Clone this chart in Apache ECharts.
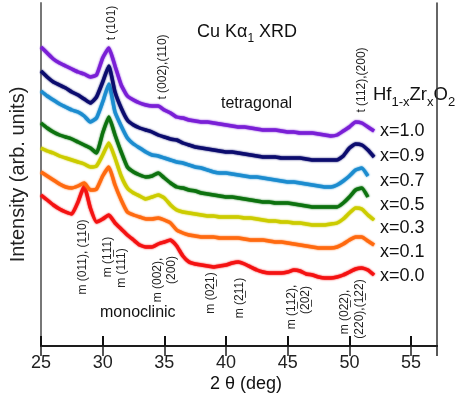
<!DOCTYPE html>
<html>
<head>
<meta charset="utf-8">
<script src="https://cdn.jsdelivr.net/npm/echarts@6/dist/echarts.min.js"></script>
<style>
html,body{margin:0;padding:0;background:#fff;}
#chart{width:455px;height:401px;}
</style>
</head>
<body>
<div id="chart"></div>
<script>
// 2θ positions (deg)
const twoTheta = [25,25.5,26,26.5,27,27.5,28,28.5,29,29.5,30,30.5,31,31.5,32,32.5,33,33.5,34,34.5,35,35.5,36,36.5,37,37.5,38,38.5,39,39.5,40,40.5,41,41.5,42,42.5,43,43.5,44,44.5,45,45.5,46,46.5,47,47.5,48,48.5,49,49.5,50,50.5,51,51.5,52];

// intensities (arb. units, offset stacked as in the figure)
const x10 = [299,293,287,283,280,277,274,272,269,271, 288,298,280,261,250,246,243,241,240,240, 236,233,229,228,226,225,224,224,223,222, 221,220,219,219,218,217,216,216,216,215, 214,214,213,213,213,212,211,210,211,215, 219,224,223,219,215];
const x09 = [275,269,264,261,258,254,251,247,243,249, 264,280,254,238,226,221,218,216,214,211, 209,207,206,203,201,199,198,197,196,195, 194,194,193,192,191,190,189,189,189,188, 188,188,188,187,186,186,186,186,186,190, 198,202,201,196,189];
const x07 = [255,250,246,242,239,236,234,230,224,228, 244,262,234,220,208,202,198,194,191,190, 188,186,184,183,181,179,178,176,174,173, 173,172,171,170,169,169,168,167,166,165, 164,164,163,162,161,160,159,159,161,165, 170,176,178,170,null];
const x05 = [223,218,214,211,209,207,204,201,198,193, 213,229,211,194,179,174,171,169,170,173, 168,163,159,158,156,155,153,152,151,150, 149,149,148,147,146,145,144,144,143,143, 143,142,141,140,139,139,139,139,139,143, 149,156,158,149,null];
const x03 = [198,195,193,190,188,186,184,182,179,180, 191,203,188,170,158,153,150,147,149,151, 148,141,136,134,133,132,131,130,130,129, 129,129,129,128,128,127,126,125,125,124, 124,123,123,122,121,121,121,122,123,127, 133,138,137,131,126];
const x01 = [174,170,166,162,159,158,160,163,156,157, 170,179,161,146,134,131,129,127,127,128, 126,123,116,113,111,110,109,109,109,108, 108,108,108,107,106,106,106,105,104,104, 103,102,101,100,99,98,98,98,99,102, 106,109,109,105,101];
const x00 = [151,146,141,137,134,132,144,160,138,124, 127,131,123,117,111,106,101,99,99,102, 104,106,100,90,84,82,81,80,79,80, 81,83,84,82,79,76,74,73,73,73, 74,76,75,72,71,69,68,68,69,71, 74,77,78,76,71];

const seriesNames = ['x=1.0','x=0.9','x=0.7','x=0.5','x=0.3','x=0.1','x=0.0'];
const seriesValues = [x10,x09,x07,x05,x03,x01,x00];
const seriesColors = ['#7a1fd6','#0c0c6e','#1c8ccf','#0d720f','#cccc00','#ff6a10','#f41212'];
const xTicks = [25,30,35,40,45,50,55];

const FONT = '"Liberation Sans", Arial, sans-serif';
const chart = echarts.init(document.getElementById('chart'), null, {renderer:'canvas'});

const series = seriesValues.map((vals, k) => ({
  name: seriesNames[k],
  type: 'line',
  showSymbol: false,
  smooth: 0.15,
  connectNulls: false,
  lineStyle: {color: seriesColors[k], width: 3.5, shadowColor: seriesColors[k], shadowBlur: 2},
  itemStyle: {color: seriesColors[k]},
  data: twoTheta.map((t, i) => [t, vals[i]]),
  z: 10 - k
}));

// label positions in pixels (annotations, not data)
const vText = (txt, x, y) => ({
  type: 'text', x: x, y: y, rotation: Math.PI / 2,
  style: {text: txt, font: '12px ' + FONT, fill: '#222', align: 'center', verticalAlign: 'middle', textAlign: 'center', textVerticalAlign: 'middle'}
});
const hText = (txt, x, y, size) => ({
  type: 'text', x: x, y: y,
  style: {text: txt, font: size + 'px ' + FONT, fill: '#111', align: 'left', verticalAlign: 'middle', textAlign: 'left', textVerticalAlign: 'middle'}
});
const legendY = [131, 156, 181, 205, 228, 252, 276];

const graphics = [
  vText('t (101)', 112, 23),
  vText('t (002),(110)', 163, 67),
  vText('t (112),(200)', 362, 80),
  vText('m (011), (1\u033210)', 83, 257),
  vText('m (1\u033211)', 108, 257),
  vText('m (111)', 122, 268),
  vText('m (002),', 158, 280),
  vText('(200)', 172, 270),
  vText('m (02\u03321)', 211, 293),
  vText('m (2\u033211)', 240, 298),
  vText('m (1\u033212),', 292, 307),
  vText('(2\u033202)', 306, 300),
  vText('m (02\u03322),', 345, 312),
  vText('(220),(1\u033222)', 360, 309),
  hText('tetragonal', 221, 104, 16),
  hText('monoclinic', 100, 313, 16),
  hText('2 \u03b8 (deg)', 210, 384, 18),
  {
    type: 'text', x: 197, y: 35,
    style: {
      text: '{m|Cu K\u03b1}{s|1}{m| XRD}',
      align: 'left', verticalAlign: 'middle', textAlign: 'left', textVerticalAlign: 'middle',
      fill: '#111',
      rich: {
        m: {fontSize: 18, fontFamily: FONT, color: '#111', lineHeight: 20, padding: [0,0,4,0], verticalAlign: 'bottom'},
        s: {fontSize: 12, fontFamily: FONT, color: '#111', lineHeight: 14, verticalAlign: 'bottom'}
      }
    }
  },
  {
    type: 'text', x: 373, y: 98,
    style: {
      text: '{m|Hf}{s|1-x}{m|Zr}{s|x}{m|O}{s|2}',
      align: 'left', verticalAlign: 'middle', textAlign: 'left', textVerticalAlign: 'middle',
      fill: '#111',
      rich: {
        m: {fontSize: 18.5, fontFamily: FONT, color: '#111', lineHeight: 21, padding: [0,0,4,0], verticalAlign: 'bottom'},
        s: {fontSize: 13, fontFamily: FONT, color: '#111', lineHeight: 15, verticalAlign: 'bottom'}
      }
    }
  }
].concat(seriesNames.map((n, k) => hText(n, 380, legendY[k], 18)));

chart.setOption({
  animation: false,
  backgroundColor: '#fff',
  grid: {left: 41, right: 18, top: 3, bottom: 55},
  xAxis: [{
    type: 'value', position: 'bottom', min: 25, max: 57.1, interval: 5,
    axisLine: {show: true, lineStyle: {color: '#111', width: 2}},
    axisTick: {show: true, inside: true, length: 10, lineStyle: {color: '#111', width: 2}},
    axisLabel: {fontSize: 18, color: '#222', fontFamily: FONT, margin: 8, showMaxLabel: false,
      formatter: v => xTicks.indexOf(v) >= 0 ? String(v) : ''},
    splitLine: {show: false}
  }, {
    type: 'value', position: 'top', min: 25, max: 57.1, interval: 5,
    axisLine: {show: true, lineStyle: {color: '#222', width: 1.5}},
    axisTick: {show: true, inside: true, length: 10, lineStyle: {color: '#222', width: 1.5}},
    axisLabel: {show: false},
    splitLine: {show: false}
  }],
  yAxis: [{
    type: 'value', min: 0, max: 343, position: 'left',
    name: 'Intensity (arb. units)', nameLocation: 'middle', nameGap: 13,
    nameTextStyle: {fontSize: 20, color: '#222', fontFamily: FONT},
    axisLine: {show: true, lineStyle: {color: '#777', width: 2}},
    axisTick: {show: false}, axisLabel: {show: false}, splitLine: {show: false}
  }, {
    type: 'value', min: 0, max: 343, position: 'right',
    axisLine: {show: true, lineStyle: {color: '#333', width: 1.5}},
    axisTick: {show: false}, axisLabel: {show: false}, splitLine: {show: false}
  }],
  series: series,
  graphic: graphics
});
</script>
</body>
</html>
